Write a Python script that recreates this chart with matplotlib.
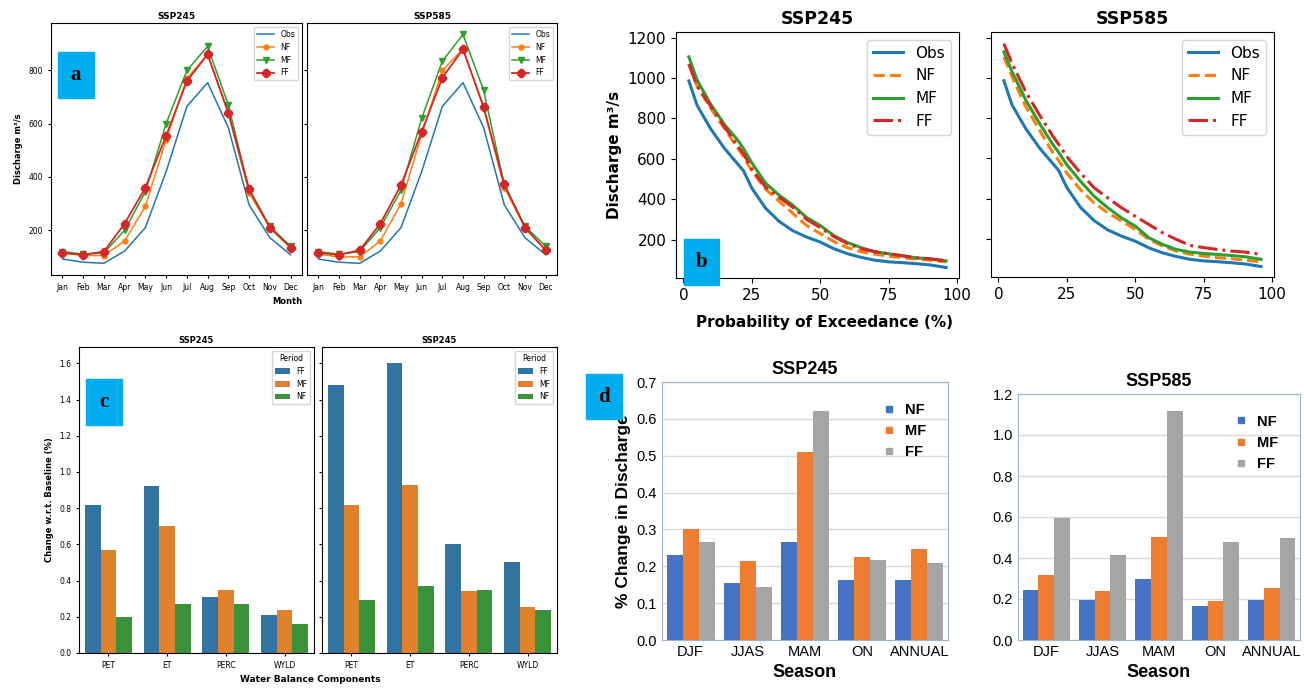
import numpy as np
import matplotlib
matplotlib.use("Agg")
import matplotlib.pyplot as plt
from matplotlib.patches import Rectangle, Patch
from matplotlib.lines import Line2D

# ---------------- data ----------------
months = ['Jan', 'Feb', 'Mar', 'Apr', 'May', 'Jun', 'Jul', 'Aug', 'Sep', 'Oct', 'Nov', 'Dec']
obs_month = [92, 80, 76, 122, 210, 420, 665, 754, 585, 295, 172, 108]
nf245_month = [115, 105, 105, 160, 290, 540, 770, 860, 640, 340, 210, 135]
mf245_month = [120, 110, 115, 200, 345, 600, 800, 890, 670, 350, 215, 140]
ff245_month = [115, 108, 120, 225, 360, 555, 760, 860, 640, 355, 210, 135]
nf585_month = [110, 100, 100, 160, 300, 560, 800, 880, 660, 360, 210, 125]
mf585_month = [120, 110, 120, 210, 350, 620, 835, 935, 725, 370, 215, 140]
ff585_month = [115, 108, 125, 225, 370, 570, 772, 880, 662, 372, 210, 125]

exceed = [2, 5, 10, 15, 20, 22, 25, 30, 35, 40, 45, 50, 55, 60, 65, 70, 75, 80, 85, 90, 96]
obs_fdc = [986, 865, 748, 652, 572, 540, 455, 356, 290, 244, 213, 188, 155, 130, 112, 98, 90, 86, 81, 75, 62]
nf245_fdc = [1070, 960, 850, 750, 650, 610, 540, 450, 390, 330, 270, 230, 190, 160, 140, 128, 118, 110, 104, 98, 90]
mf245_fdc = [1105, 990, 870, 770, 690, 650, 580, 480, 420, 370, 310, 270, 220, 185, 160, 140, 130, 120, 110, 105, 95]
ff245_fdc = [1070, 960, 860, 760, 660, 625, 550, 460, 410, 360, 300, 260, 215, 180, 155, 140, 130, 120, 110, 105, 95]
nf585_fdc = [1104, 1005, 857, 741, 626, 590, 527, 444, 378, 329, 288, 246, 197, 164, 139, 123, 114, 106, 101, 94, 85]
mf585_fdc = [1129, 1030, 890, 774, 667, 630, 568, 486, 411, 354, 304, 263, 205, 172, 147, 134, 127, 122, 117, 111, 98]
ff585_fdc = [1170, 1071, 931, 816, 708, 670, 609, 527, 453, 403, 354, 312, 271, 230, 197, 167, 156, 147, 139, 134, 122]

wb_comp = ['PET', 'ET', 'PERC', 'WYLD']
wb_left = {'FF': [0.82, 0.92, 0.31, 0.21], 'MF': [0.57, 0.70, 0.35, 0.24], 'NF': [0.20, 0.27, 0.27, 0.16]}
wb_right = {'FF': [1.48, 1.60, 0.60, 0.50], 'MF': [0.82, 0.93, 0.343, 0.254], 'NF': [0.295, 0.37, 0.35, 0.24]}

seasons = ['DJF', 'JJAS', 'MAM', 'ON', 'ANNUAL']
season245 = {'NF': [0.23, 0.154, 0.267, 0.163, 0.164], 'MF': [0.30, 0.215, 0.51, 0.226, 0.247],
             'FF': [0.267, 0.143, 0.62, 0.217, 0.21]}
season585 = {'NF': [0.243, 0.197, 0.296, 0.165, 0.197], 'MF': [0.315, 0.24, 0.504, 0.192, 0.255],
             'FF': [0.594, 0.413, 1.118, 0.476, 0.50]}

# ---------------- layout helpers ----------------
W, H = 1304, 696
fig = plt.figure(figsize=(W / 100, H / 100), dpi=100)


def ax_px(l, t, r, b, **kw):
    return fig.add_axes([l / W, 1 - b / H, (r - l) / W, (b - t) / H], **kw)


def tag(l, t, r, b, s):
    fig.add_artist(Rectangle((l / W, 1 - b / H), (r - l) / W, (b - t) / H,
                             transform=fig.transFigure, color='#00AEEF', zorder=20))
    fig.text((l + r) / 2 / W, 1 - (t + b) / 2 / H, s, ha='center', va='center',
             family='Liberation Serif', weight='bold', fontsize=15, zorder=21)


# ---------------- panel a ----------------
c_obs, c_nf, c_mf, c_ff = '#1f77b4', '#ff7f0e', '#2ca02c', '#d62728'
a1 = ax_px(51, 23, 302, 275)
a2 = ax_px(307, 23, 557, 275, sharey=a1)
for ax, nf, mf, ff, ttl in [(a1, nf245_month, mf245_month, ff245_month, 'SSP245'),
                            (a2, nf585_month, mf585_month, ff585_month, 'SSP585')]:
    x = np.arange(len(months))
    ax.plot(x, obs_month, color=c_obs, lw=1.1, label='Obs')
    ax.plot(x, nf, color=c_nf, lw=1.1, marker='o', ms=3.5, label='NF')
    ax.plot(x, mf, color=c_mf, lw=1.1, marker='v', ms=4.5, label='MF')
    ax.plot(x, ff, color=c_ff, lw=1.3, marker='8', ms=5.5, label='FF')
    ax.set_xticks(x)
    ax.set_xticklabels(months)
    ax.tick_params(labelsize=5.5, length=2)
    ax.set_title(ttl, fontsize=6.5, weight='bold', pad=3)
    ax.legend(loc='upper right', fontsize=5.5, handlelength=2.2)
a1.set_yticks([200, 400, 600, 800])
a1.set_ylim(32, 978)
a1.set_ylabel('Discharge m³/s', fontsize=6, weight='bold')
a1.set_xlabel('Month', fontsize=6, weight='bold', loc='right')
a2.tick_params(labelleft=False)
tag(58, 52, 94, 98, 'a')

# ---------------- panel b ----------------
b1 = ax_px(676, 32, 959, 278)
b2 = ax_px(991, 32, 1274, 277, sharey=b1)
for ax, nf, mf, ff, ttl in [(b1, nf245_fdc, mf245_fdc, ff245_fdc, 'SSP245'),
                            (b2, nf585_fdc, mf585_fdc, ff585_fdc, 'SSP585')]:
    ax.plot(exceed, obs_fdc, color=c_obs, lw=2.2, label='Obs')
    ax.plot(exceed, nf, color=c_nf, lw=2.2, ls='--', label='NF')
    ax.plot(exceed, mf, color=c_mf, lw=2.2, label='MF')
    ax.plot(exceed, ff, color=c_ff, lw=2.2, ls='-.', label='FF')
    ax.set_xticks([0, 25, 50, 75, 100])
    ax.set_xlim(-2.7, 100.7)
    ax.tick_params(labelsize=11)
    ax.set_title(ttl, fontsize=12.5, weight='bold')
    ax.legend(loc='upper right', fontsize=11)
b1.set_ylim(10, 1228)
b1.set_yticks([200, 400, 600, 800, 1000, 1200])
b1.set_ylabel('Discharge m³/s', fontsize=11, weight='bold')
b2.tick_params(labelleft=False)
fig.text(825 / W, 1 - 322 / H, 'Probability of Exceedance (%)', ha='center', va='center',
         fontsize=11, weight='bold')
tag(684, 239, 719, 285, 'b')

# ---------------- panel c ----------------
c_cols = {'FF': '#3274a1', 'MF': '#e1812c', 'NF': '#3a923a'}
p1 = ax_px(79, 347, 314, 653)
p2 = ax_px(322, 347, 557, 653, sharey=p1)
for ax, vals, ttl in [(p1, wb_left, 'SSP245'), (p2, wb_right, 'SSP245')]:
    x = np.arange(len(wb_comp))
    w = 0.8 / 3
    for i, k in enumerate(['FF', 'MF', 'NF']):
        ax.bar(x - 0.8 / 2 + w / 2 + i * w, vals[k], w, color=c_cols[k], label=k)
    ax.set_xticks(x)
    ax.set_xticklabels(wb_comp)
    ax.set_xlim(-0.5, 3.5)
    ax.tick_params(labelsize=5.5, length=2)
    ax.set_title(ttl, fontsize=6, weight='bold', pad=3)
    ax.legend(title='Period', loc='upper right', fontsize=5.5, title_fontsize=5.5)
p1.set_ylim(0, 1.69)
p1.set_yticks(np.arange(0, 1.61, 0.2))
p1.yaxis.set_major_formatter(matplotlib.ticker.FormatStrFormatter('%.1f'))
p1.set_ylabel('Change w.r.t. Baseline (%)', fontsize=6, weight='bold')
p2.tick_params(labelleft=False)
fig.text(310 / W, 1 - 680 / H, 'Water Balance Components', ha='center', va='center',
         fontsize=6.5, weight='bold')
tag(86, 379, 122, 425, 'c')

# ---------------- panel d ----------------
d_cols = {'NF': '#4472C4', 'MF': '#ED7D31', 'FF': '#A5A5A5'}
d1 = ax_px(662, 382, 948, 640)
d2 = ax_px(1018, 394, 1300, 640)
for ax, vals, ttl, top, step in [(d1, season245, 'SSP245', 0.7, 0.1), (d2, season585, 'SSP585', 1.2, 0.2)]:
    x = np.arange(len(seasons))
    w = 0.28
    for i, k in enumerate(['NF', 'MF', 'FF']):
        ax.bar(x + (i - 1) * w, vals[k], w, color=d_cols[k], label=k, zorder=3)
    ax.set_xticks(x)
    ax.set_xticklabels(seasons, family='Liberation Sans')
    ax.set_xlim(-0.5, 4.5)
    ax.set_ylim(0, top)
    ax.set_yticks(np.arange(0, top + 1e-9, step))
    ax.yaxis.set_major_formatter(matplotlib.ticker.FormatStrFormatter('%.1f'))
    for lab in ax.get_yticklabels():
        lab.set_family('Liberation Sans')
    ax.tick_params(labelsize=10.5, length=0)
    ax.grid(axis='y', color='#d9d9d9', lw=1, zorder=0)
    for sp in ax.spines.values():
        sp.set_color('#9fb4cc')
    ax.set_title(ttl, fontsize=13, weight='bold', family='Liberation Sans')
    ax.set_xlabel('Season', fontsize=13, weight='bold', family='Liberation Sans')
    hd = [Line2D([], [], ls='none', marker='s', ms=5, color=d_cols[k]) for k in ['NF', 'MF', 'FF']]
    ax.legend(hd, ['NF', 'MF', 'FF'], loc='upper right', frameon=False, handletextpad=0.1,
              prop={'family': 'Liberation Sans', 'weight': 'bold', 'size': 10.5},
              bbox_to_anchor=(0.97, 0.97))
d1.set_ylabel('% Change in Discharge', fontsize=12.5, weight='bold', family='Liberation Sans')
tag(586, 374, 622, 419, 'd')

fig.savefig('out.png', dpi=100)
